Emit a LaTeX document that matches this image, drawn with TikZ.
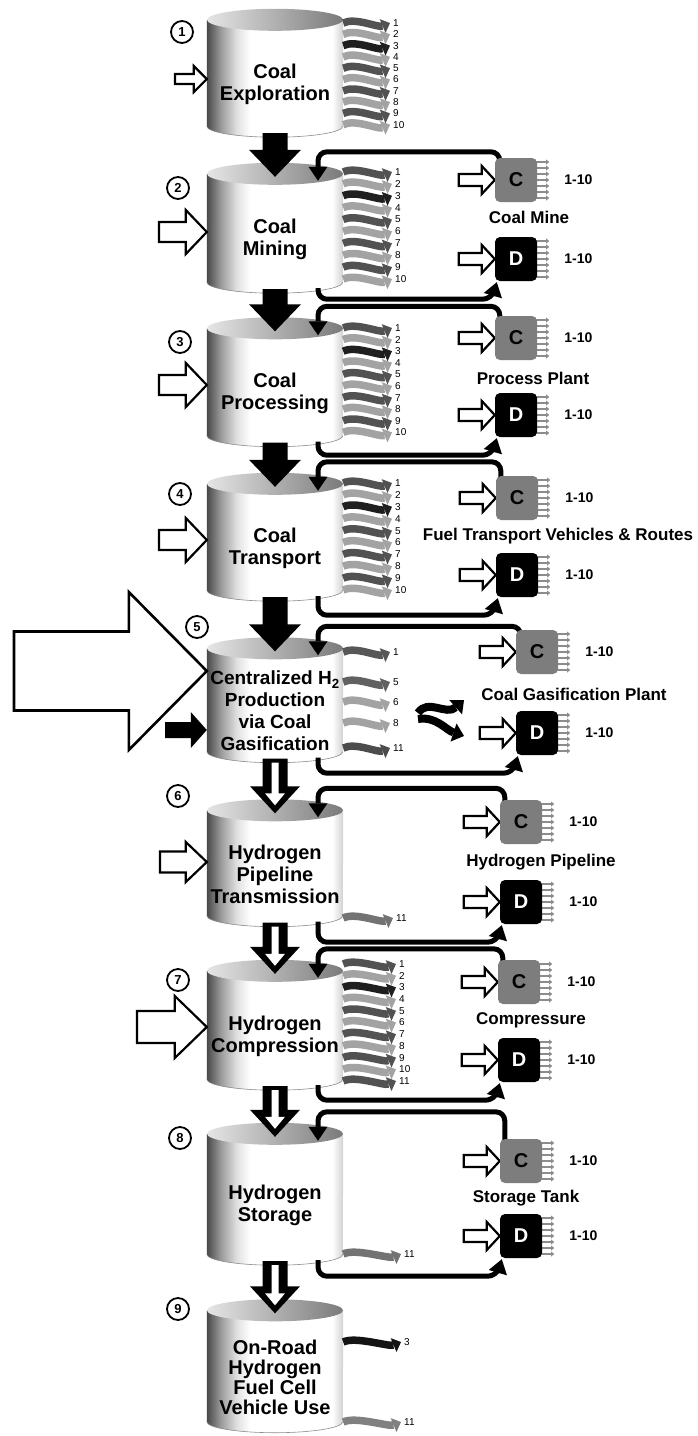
\documentclass[tikz,border=0pt]{standalone}
\usepackage{fontspec}
\setmainfont{Liberation Sans}
\usetikzlibrary{positioning,arrows.meta,calc}
\definecolor{cBox}{HTML}{7d7d7d}
\pgfdeclarelayer{bg}
\pgfdeclarelayer{fg}
\pgfsetlayers{bg,main,fg}
\pgfdeclarehorizontalshading{cylside}{100bp}{color(0bp)=(black!72); color(25bp)=(black!72);
  color(30bp)=(black!40); color(36bp)=(black!12); color(41bp)=(white); color(71bp)=(white);
  color(75bp)=(black!18); color(100bp)=(black!18)}
% shaded cylinder behind a stage node
\newcommand{\cylof}[1]{%
  \begin{pgfonlayer}{bg}
    \shade[shading=cylside] ($(#1.north west)+(0,-11)$) -- ($(#1.south west)+(0,-11)$)
      arc[start angle=180,end angle=360,x radius=68pt,y radius=11pt]
      -- ($(#1.north east)+(0,-11)$) -- cycle;
    \draw[black!45,line width=0.6pt] ($(#1.south west)+(0,-11)$)
      arc[start angle=180,end angle=360,x radius=68pt,y radius=11pt];
    \shade[left color=black!10,right color=black!52] ($(#1.north)+(0,-11)$)
      ellipse[x radius=68pt,y radius=11pt];
  \end{pgfonlayer}}
% block arrows: [style]{from}{tip}{shaft half}{head half}{head length}
\newcommand{\dnblock}[6][]{%
  \path[#1] let \p1=(#2), \p2=(#3) in
    (\x2-#4pt,\y1) -- (\x2-#4pt,\y2+#6pt) -- (\x2-#5pt,\y2+#6pt) -- (\x2,\y2)
    -- (\x2+#5pt,\y2+#6pt) -- (\x2+#4pt,\y2+#6pt) -- (\x2+#4pt,\y1) -- cycle;}
\newcommand{\rtblock}[6][]{%
  \path[#1] let \p1=(#2), \p2=(#3) in
    (\x1,\y2+#4pt) -- (\x2-#6pt,\y2+#4pt) -- (\x2-#6pt,\y2+#5pt) -- (\x2,\y2)
    -- (\x2-#6pt,\y2-#5pt) -- (\x2-#6pt,\y2-#4pt) -- (\x1,\y2-#4pt) -- cycle;}
\tikzset{
  sstage/.style={minimum width=136pt,inner sep=0pt,align=center,
                 font=\bfseries\fontsize{20}{22}\selectfont},
  snum/.style={circle,draw,line width=1.8pt,minimum size=22pt,inner sep=0pt,
               font=\bfseries\fontsize{13}{13}\selectfont},
  senum/.style={anchor=west,inner sep=0pt,font=\fontsize{10}{10}\selectfont},
  swave/.style={line width=7.5pt,-{Triangle[length=8pt,width=15pt,line width=0pt]}},
  scbox/.style={rounded corners=5pt,minimum width=42pt,minimum height=44pt,inner sep=0pt,
                fill=cBox,font=\bfseries\fontsize{20}{20}\selectfont},
  sdbox/.style={scbox,fill=black,text=white},
  srng/.style={inner sep=0pt,font=\bfseries\fontsize{14}{14}\selectfont},
  slab/.style={inner sep=0pt,font=\bfseries\fontsize{17}{17}\selectfont},
  sfb/.style={line width=5pt,rounded corners=9pt,
              -{Triangle[length=14pt,width=19pt,line width=0pt]}},
  sfringe/.style={line width=1.3pt,black!45,-{Triangle[length=3pt,width=5pt,line width=0pt]}},
  sswap/.style={line width=8pt,-{Triangle[length=11pt,width=19pt,line width=0pt]}},
  sblk/.style={fill=black},
  sopen/.style={draw=black,fill=white,line width=2.2pt,line join=miter},
}
\begin{document}
\begin{tikzpicture}[x=1pt,y=-1pt]
  \begin{pgfonlayer}{bg}
    \fill[white] (0,0) rectangle (698,1436);
  \end{pgfonlayer}
  \useasboundingbox (0,0) rectangle (698,1436);

  % the nine stages
  \node[sstage,minimum height=106pt] (s1) at (275,84) {Coal\\Exploration};
  \node[sstage,minimum height=108pt] (s2) at (275,239) {Coal\\Mining};
  \node[sstage,minimum height=107pt] (s3) at (275,393) {Coal\\Processing};
  \node[sstage,minimum height=106pt] (s4) at (275,548) {Coal\\Transport};
  \node[sstage,minimum height=103pt,font=\bfseries\fontsize{19}{22}\selectfont] (s5) at (275,711)
    {Centralized H\textsubscript{2}\\Production\\via Coal\\Gasification};
  \node[sstage,minimum height=105pt] (s6) at (275,874) {Hydrogen\\Pipeline\\Transmission};
  \node[sstage,minimum height=108pt] (s7) at (275,1036) {Hydrogen\\Compression};
  \node[sstage,minimum height=120pt] (s8) at (275,1205) {Hydrogen\\Storage};
  \node[sstage,minimum height=111pt,font=\bfseries\fontsize{20}{20}\selectfont] (s9) at (275,1377)
    {On-Road\\Hydrogen\\Fuel Cell\\Vehicle Use};
  \foreach \i in {1,...,9} {\cylof{s\i}}

  \foreach \i/\px/\py in {1/182/32,2/178/188,3/180/342,4/180/494,5/197/627,6/178/796,7/178/980,8/180/1138,9/178/1309}
    {\node[snum] (n\i) at (\px,\py) {\i};}

  % flow down the chain
  \foreach \a/\b in {1/2,2/3,3/4,4/5}
    {\dnblock[sblk]{$(s\a.south)+(0,-4)$}{$(s\b.north)+(0,-8)$}{12.5}{26}{27}}
  \foreach \a/\b in {5/6,6/7,7/8,8/9} {
    \dnblock[sblk]{$(s\a.south)+(0,-4)$}{$(s\b.north)+(0,-8)$}{12.5}{25}{27}
    \dnblock[fill=white]{$(s\a.south)+(0,0)$}{$(s\b.north)+(0,-16)$}{3.5}{10}{12}
  }

  % inputs from the left
  \coordinate (i1) at (175,79);
  \coordinate (i2) at (159,232);
  \coordinate (i3) at (159,385);
  \coordinate (i4) at (159,540);
  \coordinate (i5) at (14,671);
  \coordinate (i5b) at (165,730);
  \coordinate (i6) at (160,862);
  \coordinate (i7) at (137,1027);
  \rtblock[sopen]{i1}{s1.west |- i1}{5}{13}{13}
  \rtblock[sopen]{i2}{s2.west |- i2}{10}{22}{21}
  \rtblock[sopen]{i3}{s3.west |- i3}{10}{22}{21}
  \rtblock[sopen]{i4}{s4.west |- i4}{10}{22}{21}
  \rtblock[sopen,line width=2.6pt]{i5}{s5.west |- i5}{39.5}{79}{78}
  \rtblock[sblk]{i5b}{s5.west |- i5b}{8}{18}{16}
  \rtblock[sopen]{i6}{s6.west |- i6}{10.5}{20}{21}
  \rtblock[sopen]{i7}{s7.west |- i7}{16}{31}{32}

  % emissions
  \foreach \s/\ex/\ya/\dy/\n in {1/393/23/11.3/10,2/395/172/11.9/10,3/395/328/11.6/10,4/395/483/11.9/10,7/399/964/11.7/11} {
    \foreach \i in {1,...,\n} {
      \pgfmathtruncatemacro{\g}{ifthenelse(\i==3,88,ifthenelse(mod(\i,2)==1,68,36))}
      \node[senum] (e\s-\i) at (\ex,{\ya+\dy*(\i-1)}) {\i};
      \draw[swave,black!\g] (s\s.east |- e\s-\i) .. controls +(12,-6) and +(-12,5) .. ([xshift=-3pt]e\s-\i.west);
    }
  }
  \foreach \s/\i/\ex/\ey/\g in {5/1/393/652/66,5/5/393/682/62,5/6/393/702/36,5/8/393/723/36,5/11/393/748/70,
      6/11/396/918/55,8/11/404/1254/55,9/3/404/1342/92,9/11/404/1422/50} {
    \node[senum] (e\s-\i) at (\ex,\ey) {\i};
    \draw[swave,black!\g] (s\s.east |- e\s-\i) .. controls +(12,-6) and +(-12,5) .. ([xshift=-3pt]e\s-\i.west);
  }

  % plants: construction (C) and decommissioning (D)
  \foreach \k/\cx/\cy/\dy/\lx/\ly/\txt in {2/516/180/259/529/217/Coal Mine,
      3/516/338/415/533/378/Process Plant,
      4/517/498/575/558/536/Fuel Transport Vehicles \& Routes,
      5/537/652/733/574/694/Coal Gasification Plant,
      6/521/822/902/541/862/Hydrogen Pipeline,
      7/519/982/1060/531/1020/Compressure,
      8/521/1161/1236/526/1198/Storage Tank} {
    \begin{pgfonlayer}{fg}
      \node[scbox] (c\k) at (\cx,\cy) {C};
      \node[sdbox] (d\k) at (\cx,\dy) {D};
    \end{pgfonlayer}
    \node[slab] (l\k) at (\lx,\ly) {\txt};
    \node[srng,right=27pt of c\k] (rc\k) {1-10};
    \node[srng,right=27pt of d\k] (rd\k) {1-10};
    \foreach \o in {-18,-12,...,18} {
      \draw[sfringe] ($(c\k.east)+(-2,\o)$) -- ++(14,0);
      \draw[sfringe] ($(d\k.east)+(-2,\o)$) -- ++(14,0);
    }
    \rtblock[sopen]{$(c\k.west)+(-36,0)$}{c\k.west}{6}{14}{13}
    \rtblock[sopen]{$(d\k.west)+(-36,0)$}{d\k.west}{6}{14}{13}
    \draw[sfb] ($(c\k.north west)+(5,6)$) |- ($(s\k.north)+(43,-33)$) -- ($(s\k.north)+(43,-4)$);
    \draw[sfb] ($(s\k.south)+(43,-5)$) |- ($(d\k.south west)+(-3,18)$) -- ($(d\k.south west)+(2,1)$);
  }

  % exchange at the gasification plant
  \coordinate (xa) at (418,713);
  \coordinate (xb) at (464,700);
  \coordinate (xc) at (418,719);
  \coordinate (xd) at (464,736);
  \draw[sswap] (xa) .. controls (428,698) and (446,716) .. (xb);
  \draw[sswap] (xc) .. controls (436,716) and (446,730) .. (xd);
\end{tikzpicture}
\end{document}
